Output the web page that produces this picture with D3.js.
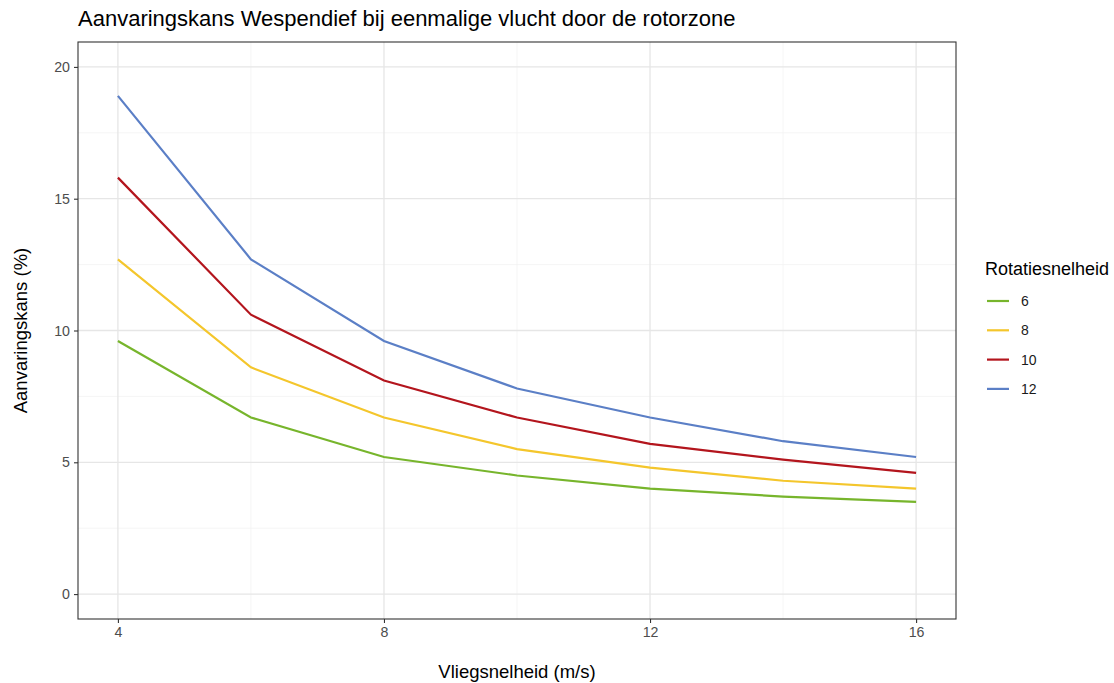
<!DOCTYPE html>
<html>
<head>
<meta charset="utf-8">
<script src="https://cdn.jsdelivr.net/npm/d3@7"></script>
<style>
  body { margin: 0; background: #fff; }
  text { font-family: "Liberation Sans", Arial, sans-serif; }
</style>
</head>
<body>
<svg id="chart" width="1114" height="683"></svg>
<script>
// data
var speeds = [4, 6, 8, 10, 12, 14, 16];
var rotations = ["6", "8", "10", "12"];
var rot6 = [9.6, 6.7, 5.2, 4.5, 4.0, 3.7, 3.5];
var rot8 = [12.7, 8.6, 6.7, 5.5, 4.8, 4.3, 4.0];
var rot10 = [15.8, 10.6, 8.1, 6.7, 5.7, 5.1, 4.6];
var rot12 = [18.9, 12.7, 9.6, 7.8, 6.7, 5.8, 5.2];
var xTicks = [4, 8, 12, 16];
var yTicks = [0, 5, 10, 15, 20];
var colors = ["#77b52c", "#f4c62c", "#b3151d", "#5b7fc6"];

var series = [rot6, rot8, rot10, rot12].map((vals, i) => {
    return {
        name: rotations[i],
        color: colors[i],
        points: speeds.map((s, j) => ({ x: s, y: vals[j] }))
    }
});

const svg = d3.select("#chart");

var panel = { left: 78, top: 42, right: 956, bottom: 619 };

var x = d3.scaleLinear()
    .domain([3.4, 16.6])
    .range([panel.left, panel.right]);

var y = d3.scaleLinear()
    .domain([-0.945, 20.945])
    .range([panel.bottom, panel.top]);

// title
svg.append("text")
    .attr("x", 78)
    .attr("y", 26)
    .attr("font-size", 22)
    .attr("fill", "#000")
    .text("Aanvaringskans Wespendief bij eenmalige vlucht door de rotorzone");

// grid
const grid = svg.append("g");
var minorY = [2.5, 7.5, 12.5, 17.5];
var minorX = [6, 10, 14];

grid.append("g").selectAll("line")
    .data(minorY)
    .join("line")
    .attr("x1", panel.left).attr("x2", panel.right)
    .attr("y1", d => y(d)).attr("y2", d => y(d))
    .attr("stroke", "#f3f3f3").attr("stroke-width", 0.8);

grid.append("g").selectAll("line")
    .data(minorX)
    .join("line")
    .attr("y1", panel.top).attr("y2", panel.bottom)
    .attr("x1", d => x(d)).attr("x2", d => x(d))
    .attr("stroke", "#f3f3f3").attr("stroke-width", 0.8);

grid.append("g").selectAll("line")
    .data(yTicks)
    .join("line")
    .attr("x1", panel.left).attr("x2", panel.right)
    .attr("y1", d => y(d)).attr("y2", d => y(d))
    .attr("stroke", "#e6e6e6").attr("stroke-width", 1.3);

grid.append("g").selectAll("line")
    .data(xTicks)
    .join("line")
    .attr("y1", panel.top).attr("y2", panel.bottom)
    .attr("x1", d => x(d)).attr("x2", d => x(d))
    .attr("stroke", "#e6e6e6").attr("stroke-width", 1.3);

// lines
var line = d3.line()
    .x(d => x(d.x))
    .y(d => y(d.y));

svg.append("g")
    .selectAll("path")
    .data(series)
    .join("path")
    .attr("d", d => line(d.points))
    .attr("fill", "none")
    .attr("stroke", d => d.color)
    .attr("stroke-width", 2.2);

// panel border
svg.append("rect")
    .attr("x", panel.left)
    .attr("y", panel.top)
    .attr("width", panel.right - panel.left)
    .attr("height", panel.bottom - panel.top)
    .attr("fill", "none")
    .attr("stroke", "#333")
    .attr("stroke-width", 1.1);

// axes
const xAxis = svg.append("g")
    .attr("transform", "translate(0," + panel.bottom + ")")
    .call(d3.axisBottom(x).tickValues(xTicks).tickSize(4).tickPadding(4));
const yAxis = svg.append("g")
    .attr("transform", "translate(" + panel.left + ",0)")
    .call(d3.axisLeft(y).tickValues(yTicks).tickSize(4).tickPadding(4));

[xAxis, yAxis].forEach(a => {
    a.select(".domain").remove();
    a.selectAll(".tick line").attr("stroke", "#333").attr("stroke-width", 1.1);
    a.selectAll(".tick text")
        .attr("fill", "#4d4d4d")
        .attr("font-size", 14.2)
        .attr("font-family", "Liberation Sans, Arial, sans-serif");
});

// axis titles
svg.append("text")
    .attr("x", (panel.left + panel.right) / 2)
    .attr("y", 678)
    .attr("text-anchor", "middle")
    .attr("font-size", 18.5)
    .text("Vliegsnelheid (m/s)");

svg.append("text")
    .attr("transform", "translate(27," + ((panel.top + panel.bottom) / 2) + ") rotate(-90)")
    .attr("text-anchor", "middle")
    .attr("font-size", 18.5)
    .text("Aanvaringskans (%)");

// legend
const legend = svg.append("g").attr("transform", "translate(985,0)");
legend.append("text")
    .attr("x", 0)
    .attr("y", 275)
    .attr("font-size", 18)
    .text("Rotatiesnelheid");

const items = legend.selectAll(".item")
    .data(series)
    .join("g")
    .attr("transform", (d, i) => "translate(0," + (301 + i * 29.3) + ")");

items.append("line")
    .attr("x1", 2).attr("x2", 24)
    .attr("stroke", d => d.color)
    .attr("stroke-width", 2.2);

items.append("text")
    .attr("x", 36)
    .attr("y", 5)
    .attr("font-size", 14)
    .attr("fill", "#1a1a1a")
    .text(d => d.name);
</script>
</body>
</html>
